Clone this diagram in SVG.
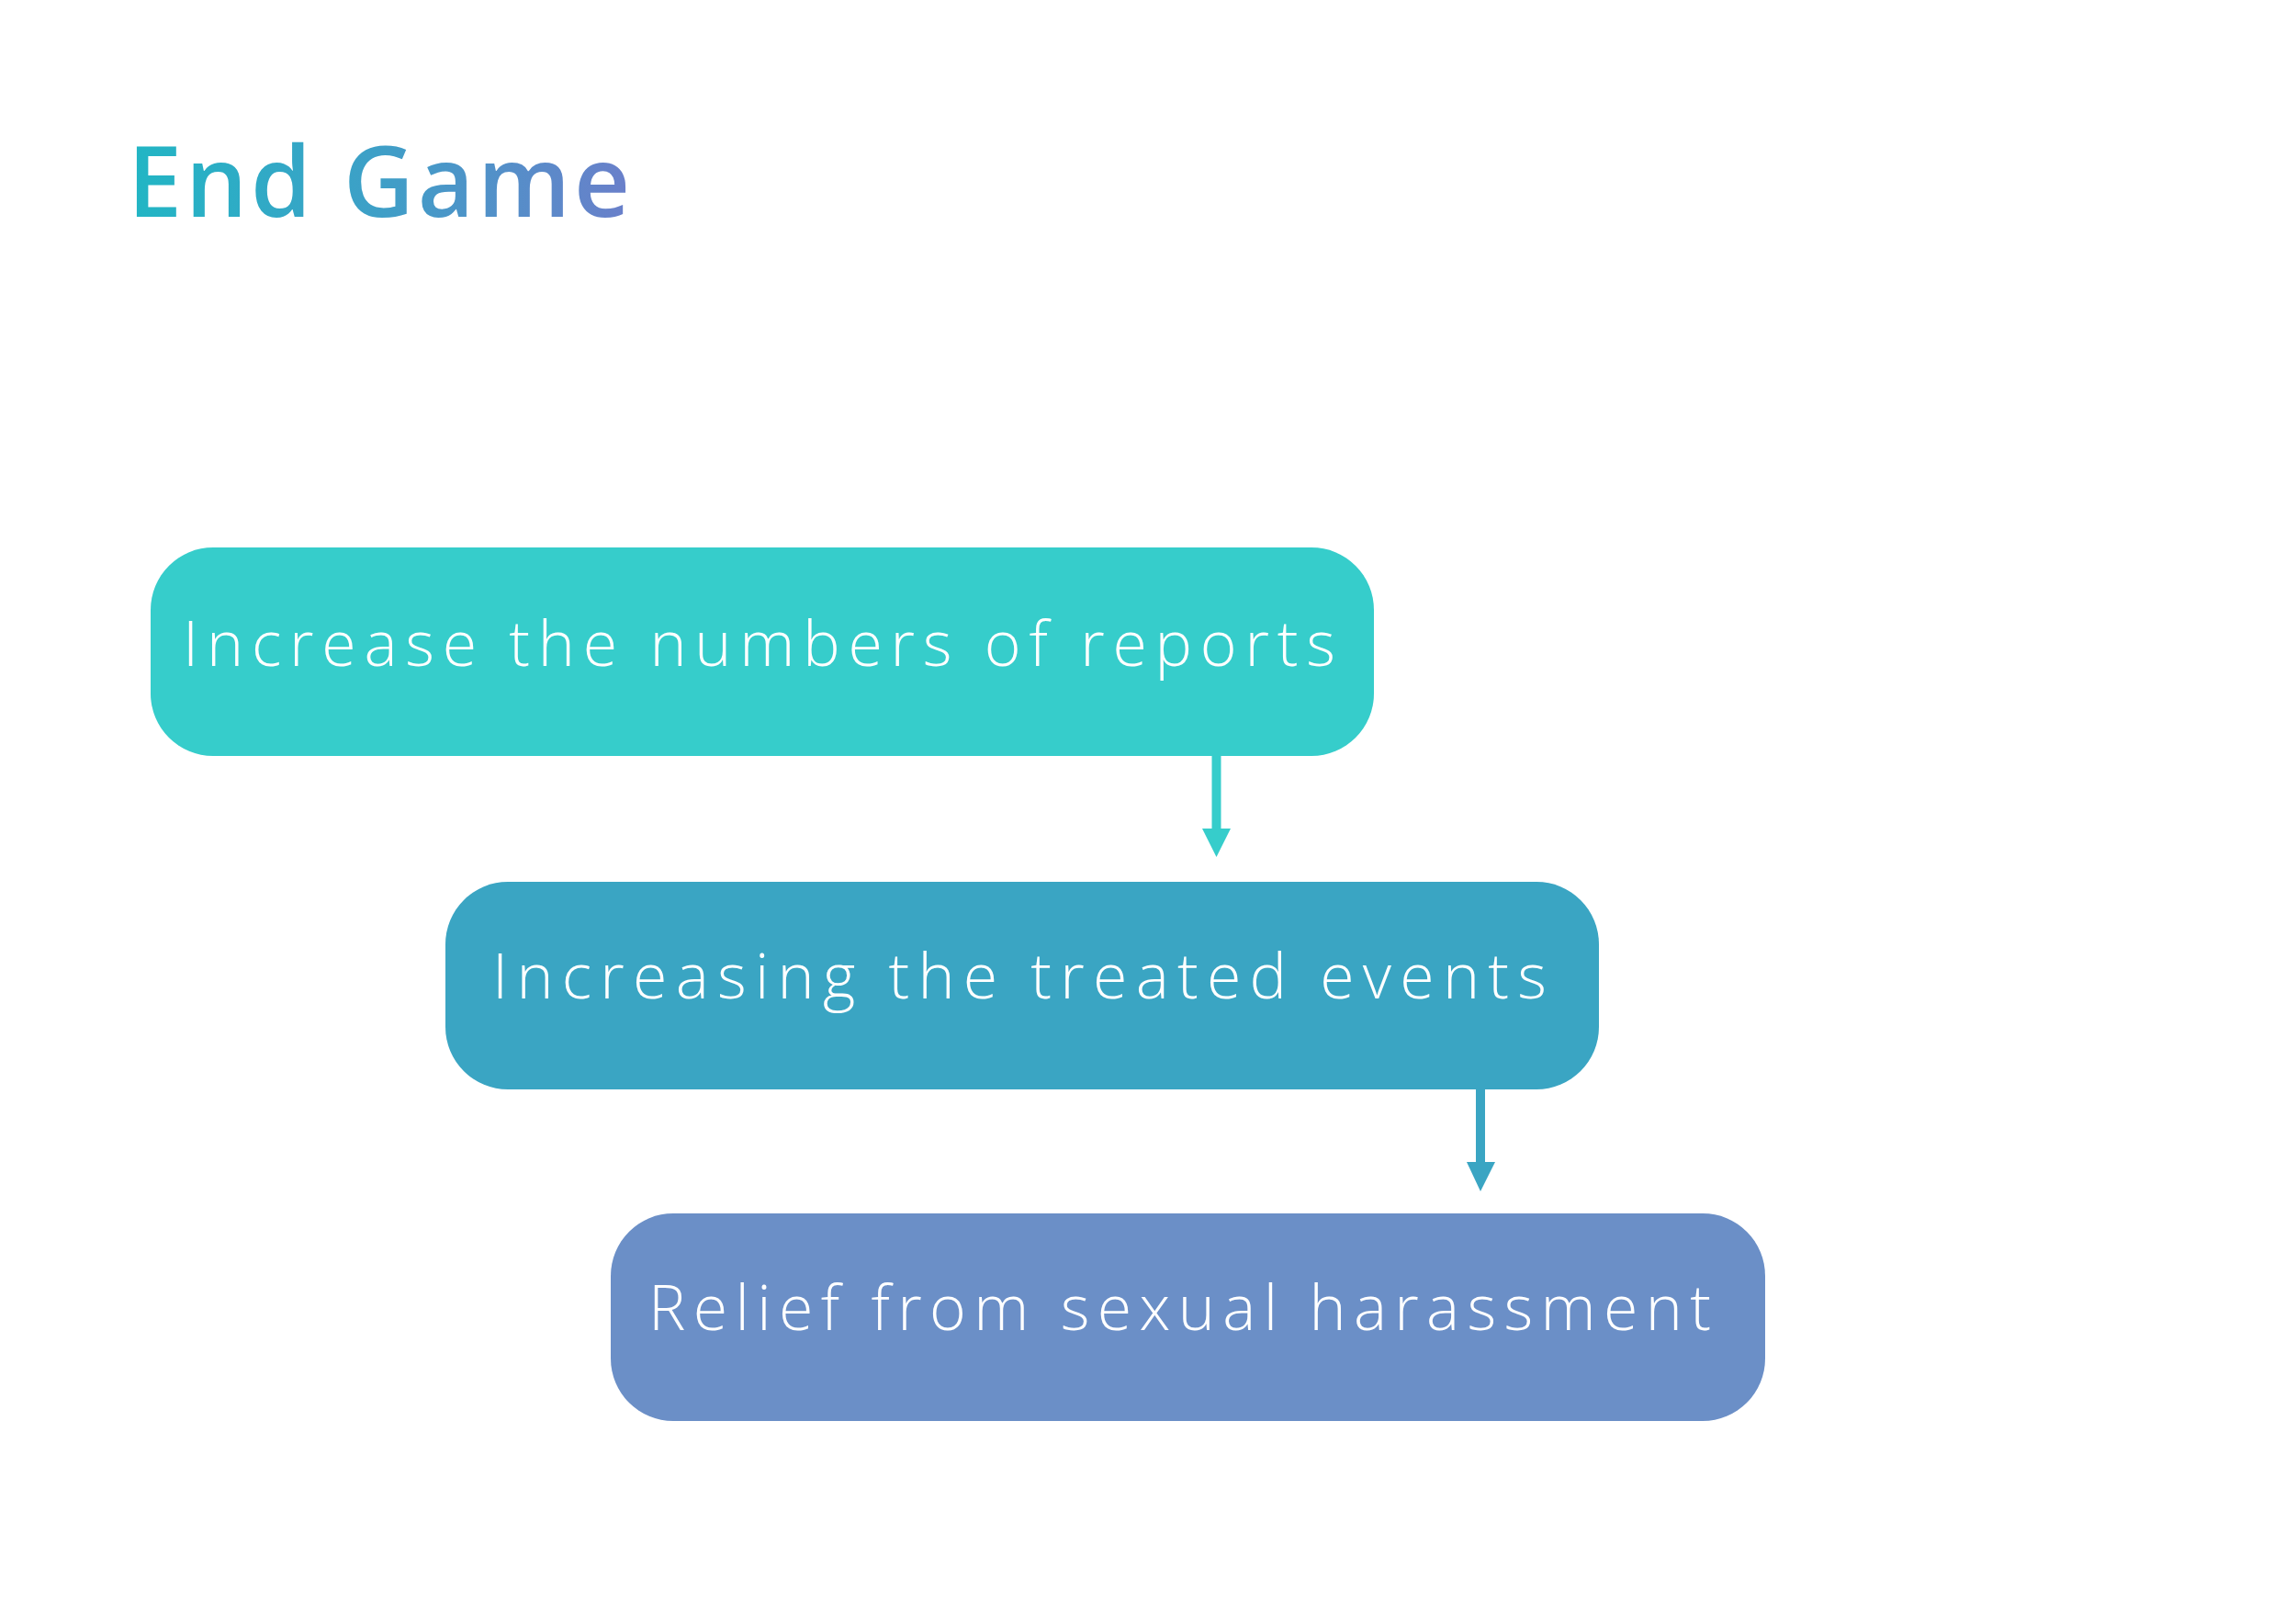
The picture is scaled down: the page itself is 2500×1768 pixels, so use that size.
<svg xmlns="http://www.w3.org/2000/svg" width="2500" height="1768" viewBox="0 0 2500 1768">
  <defs>
    <linearGradient id="titleGrad" x1="139" y1="0" x2="686" y2="0" gradientUnits="userSpaceOnUse">
      <stop offset="0" stop-color="#21B6C4"/>
      <stop offset="0.5" stop-color="#3E9FC7"/>
      <stop offset="1" stop-color="#6A7FCA"/>
    </linearGradient>
    <style>
      .label { font-family: "Open Sans", "Liberation Sans", sans-serif; font-weight: 300; font-size: 68px; fill: #ffffff; }
      .title { font-family: "Open Sans", "Liberation Sans", sans-serif; font-weight: 600; font-size: 106px; }
    </style>
  </defs>
  <rect width="2500" height="1768" fill="#ffffff"/>
  <text class="title" x="139" y="236" fill="url(#titleGrad)" textLength="547" lengthAdjust="spacing">End Game</text>

  <g id="node-reports">
    <rect x="164" y="596" width="1332" height="227" rx="68" fill="#36CDCB"/>
    <text class="label" x="199" y="725" textLength="1255" lengthAdjust="spacing">Increase the numbers of reports</text>
  </g>
  <g id="node-treated">
    <rect x="485" y="960" width="1256" height="226" rx="68" fill="#3AA5C3"/>
    <text class="label" x="536" y="1087" textLength="1148" lengthAdjust="spacing">Increasing the treated events</text>
  </g>
  <g id="node-relief">
    <rect x="665" y="1321" width="1257" height="226" rx="68" fill="#6B8FC7"/>
    <text class="label" x="706" y="1448" textLength="1157" lengthAdjust="spacing">Relief from sexual harassment</text>
  </g>

  <g id="connectors">
    <line x1="1324.5" y1="823" x2="1324.5" y2="904" stroke="#36CDCB" stroke-width="10"/>
    <polygon points="1309,902 1340,902 1324.5,933" fill="#36CDCB"/>
    <line x1="1612" y1="1186" x2="1612" y2="1267" stroke="#3AA5C3" stroke-width="10"/>
    <polygon points="1597,1265 1628,1265 1612,1297" fill="#3AA5C3"/>
  </g>
</svg>
